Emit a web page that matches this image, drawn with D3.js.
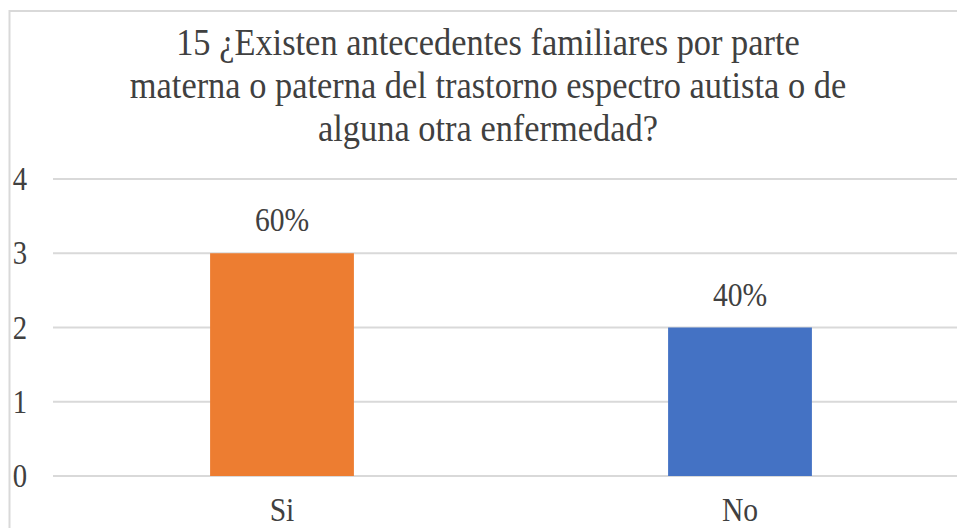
<!DOCTYPE html>
<html><head><meta charset="utf-8"><script src="https://cdn.jsdelivr.net/npm/d3@7"></script>
<style>
@font-face { font-family: "ChartSerif"; src: local("Liberation Serif"), local("LiberationSerif"), local("LiberationSerif-Regular"), local("Times New Roman"); }
</style>
</head>
<body style="margin:0">
<svg id="c" width="957" height="528"></svg>
<script>
const titleLines = [
  "15 ¿Existen antecedentes familiares por parte",
  "materna o paterna del trastorno espectro autista o de",
  "alguna otra enfermedad?"
];
const categories = ["Si", "No"];
const values = [3, 2];
const dataLabels = ["60%", "40%"];
const colors = ["#ED7D31", "#4472C4"];
const yTicks = [0, 1, 2, 3, 4];

const W = 957, H = 528;
const FONT = "'Times New Roman', 'Liberation Serif', ChartSerif, monospace";
const svg = d3.select("#c").attr("font-family", FONT);

svg.append("rect")
  .attr("x", 9.5).attr("y", 11)
  .attr("width", W + 20).attr("height", H + 20)
  .attr("fill", "none").attr("stroke", "#d9d9d9").attr("stroke-width", 2);

const plotLeft = 53, plotRight = 969;
const x = d3.scaleBand().domain(categories).range([plotLeft, plotRight]).paddingInner(0.686).paddingOuter(0.343);
const y = d3.scaleLinear().domain([0, 4]).range([476, 179]);

svg.selectAll("line.grid").data(yTicks).join("line")
  .attr("class", "grid")
  .attr("x1", plotLeft).attr("x2", W + 10)
  .attr("y1", d => y(d)).attr("y2", d => y(d))
  .attr("stroke", "#d9d9d9").attr("stroke-width", 2);

svg.selectAll("rect.bar").data(categories).join("rect")
  .attr("class", "bar")
  .attr("x", d => x(d))
  .attr("width", x.bandwidth())
  .attr("y", (d, i) => y(values[i]))
  .attr("height", (d, i) => y(0) - y(values[i]))
  .attr("fill", (d, i) => colors[i]);

const sx = 0.87;
const textRows = [];
yTicks.forEach(d => textRows.push({t: String(d), tr: `translate(27,${y(d) + 11}) scale(${sx},1)`, a: "end", fs: 33}));
categories.forEach((d, i) => textRows.push({t: dataLabels[i], tr: `translate(${x(d) + x.bandwidth() / 2},${y(values[i]) - 22}) scale(${sx},1)`, a: "middle", fs: 34}));
categories.forEach(d => textRows.push({t: d, tr: `translate(${x(d) + x.bandwidth() / 2},521) scale(${sx},1)`, a: "middle", fs: 34}));
const titleBase = [55, 98, 141];
titleLines.forEach((d, i) => textRows.push({t: d, tr: `translate(488,${titleBase[i]}) scale(0.93,1)`, a: "middle", fs: 37}));

svg.selectAll("text").data(textRows).join("text")
  .attr("transform", d => d.tr)
  .attr("text-anchor", d => d.a)
  .attr("font-size", d => d.fs)
  .attr("font-family", FONT)
  .attr("fill", "#404040")
  .style("font-family", FONT)
  .text(d => d.t);
</script></body></html>
